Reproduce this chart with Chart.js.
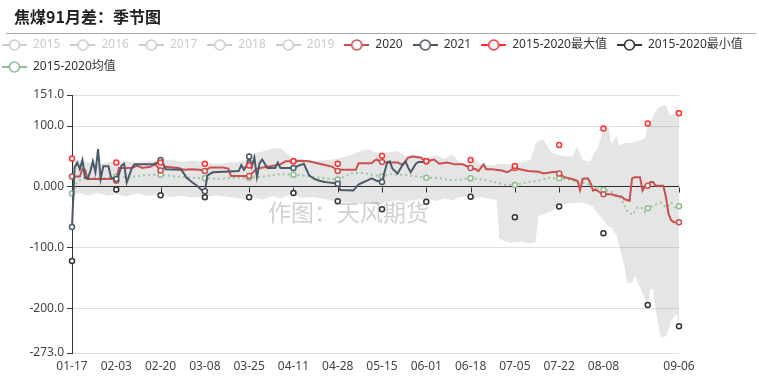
<!DOCTYPE html>
<html>
<head>
<meta charset="utf-8">
<title>焦煤91月差：季节图</title>
<script src="https://cdn.jsdelivr.net/npm/chart.js@4.4.1/dist/chart.umd.min.js"></script>
<style>
  html, body { margin: 0; padding: 0; background: #fff; }
  #wrap { width: 759px; height: 385px; }
</style>
</head>
<body>
<div id="wrap"><canvas id="seasonChart" width="759" height="385"></canvas></div>
<script>
var chartTitle = '焦煤91月差：季节图';
var watermark = '作图：天风期货';

// one category per calendar day, 01-17 .. 09-06 (leap-year calendar, 02-29 included)
var categories = [];
for (var d = new Date(2020, 0, 17); d <= new Date(2020, 8, 6); d.setDate(d.getDate() + 1)) {
  categories.push(String(d.getMonth() + 1).padStart(2, '0') + '-' + String(d.getDate()).padStart(2, '0'));
}

var tickLabels = ['01-17', '02-03', '02-20', '03-08', '03-25', '04-11', '04-28', '05-15',
                  '06-01', '06-18', '07-05', '07-22', '08-08', '09-06'];
var markDays = ['01-17', '02-03', '02-20', '03-08', '03-25', '04-11', '04-28', '05-15',
                '06-01', '06-18', '07-05', '07-22', '08-08', '08-25', '09-06'];
var yTicks = [-273, -200, -100, 0, 100, 151];
var yTickText = ['-273.0', '-200.0', '-100.0', '0.000', '100.0', '151.0'];

var offYears = ['2015', '2016', '2017', '2018', '2019'];

// 2015-2020 max / min, read at the marked days
var maxVals = [46.5, 40, 40, 38, 35, 42, 38, 51, 42, 44, 34.5, 69, 96, 104, 121];
var minVals = [-122, -4.5, -13.7, -17, -17, -10, -23.5, -36.6, -24.6, -16.4, -50, -32.4, -76, -194, -229];

// [day offset from 01-17, value]
var s2020 = [[0,17],[3,17],[4,29],[5,28],[6,13],[16,13],[17,10],[18,31],[23,31],[25,35],[27,31],
  [30,33],[32,37],[34,27],[36,33],[41,31],[43,28],[46,29],[49,28],[51,26],[53,32],[58,32],[60,30],
  [61,18],[67,18],[68,18],[71,30],[75,33],[80,37],[82,42],[85,42],[88,43],[91,42],[95,38],[98,35],
  [100,33],[102,26],[103,28],[109,28],[110,39],[115,39],[116,43],[117,45],[118,42],[119,41],[122,40],
  [125,40],[127,36],[129,48],[131,50],[134,48],[135,44],[136,42],[139,45],[141,38],[144,40],[147,37],
  [150,37],[153,31],[155,29],[156,26],[158,37],[159,29],[161,29],[165,27],[167,24],[170,31],[172,29],
  [175,26],[179,25],[181,22],[184,24],[186,25],[187,22],[189,16],[192,13],[194,10],[195,-5],[196,13],
  [198,14],[199,7],[200,-6],[201,-4],[203,-10],[204,-12],[207,-12],[209,-15],[211,-16],[212,-20],
  [214,-23],[215,14],[216,16],[218,16],[219,-6],[220,2],[221,2],[222,8],[223,8],[224,2],[227,2],
  [228,-17],[229,-45],[230,-55],[231,-58],[233,-58]];

var s2021 = [[0,-66],[1,32],[2,40],[3,29],[4,44],[5,15],[6,13],[7,25],[8,42],[9,24],[10,62],[11,13],
  [12,34],[14,34],[15,15],[17,13],[18,20],[19,35],[20,38],[21,7],[23,31],[24,37],[31,37],[33,40],
  [34,44],[35,38],[36,29],[42,28],[44,15],[46,8],[48,2],[50,-6],[51,-7],[52,19],[54,24],[64,26],
  [65,36],[66,28],[67,35],[68,50],[69,33],[70,48],[71,16],[72,39],[73,45],[75,31],[78,31],[79,40],
  [80,31],[85,31],[87,35],[89,38],[91,19],[93,13],[95,10],[97,8],[99,7],[101,6],[102,5],[103,-5],
  [108,-6],[110,4],[111,6],[113,10],[115,14],[117,10],[119,8],[120,25],[121,40],[122,42],[123,30],
  [125,22],[127,37],[128,42],[129,32],[130,24],[132,38],[133,41],[135,41]];

var avgLine = [[0,-11],[2,8],[4,14],[8,15],[12,14],[17,17],[22,16],[28,19],[34,20],[40,17],[46,15],
  [51,14],[56,13],[62,15],[68,15],[74,17],[80,21],[85,20],[90,18],[95,15],[100,13],[102,12],[105,18],
  [108,23],[112,23],[116,19],[119,17],[122,21],[126,20],[131,18],[136,15],[140,15],[145,11],[149,12],
  [153,14],[158,12],[163,7],[167,3],[170,3],[174,7],[179,10],[183,15],[187,14],[191,12],[194,8],
  [197,6],[200,2],[204,-5],[208,-9],[211,-20],[213,-39],[215,-46],[217,-34],[219,-35],[220,-42],
  [221,-35],[223,-31],[226,-26],[228,-34],[230,-26],[232,-37],[233,-32]];

// grey range band
var bandDays = [0,3,6,10,14,17,21,25,29,34,38,42,46,51,56,61,66,70,73,77,80,84,88,93,97,101,106,111,
  114,117,119,121,125,128,131,136,140,143,146,148,151,154,157,161,163,164,168,172,176,178,179,181,184,
  187,189,192,194,196,199,200,202,204,206,207,209,210,212,213,215,216,218,220,221,222,223,224,225,226,
  228,229,230,231,232,233];
var bandHi = [42,44,40,38,41,40,43,40,42,43,45,41,43,40,38,40,42,55,58,63,64,50,45,42,44,46,51,59,
  62,56,54,57,59,50,54,48,52,46,54,43,37,46,37,35,37,38,37,40,44,72,76,78,56,
  52,50,50,66,44,42,52,66,96,98,70,84,68,72,72,73,74,76,80,103,106,115,124,130,132,
  135,122,116,120,133,125];
var bandLo = [-12,-10,-14,-10,-15,-12,-16,-11,-15,-13,-17,-14,-18,-16,-14,-17,-20,-17,-21,-15,-19,-12,
  -18,-17,-20,-23,-26,-28,-25,-30,-28,-24,-22,-25,-21,-20,-23,-19,-22,-18,-16,-20,-17,-20,-22,-85,-92,
  -90,-93,-90,-48,-45,-40,-31,-28,-27,-26,-26,-30,-33,-45,-55,-66,-66,-80,-95,-130,-158,-158,-145,-165,
  -185,-193,-170,-168,-200,-225,-248,-245,-235,-220,-215,-209,-231];

var FONT = "'Noto Sans', 'Noto Sans CJK SC', sans-serif";
var C2020 = '#c9504f', C2021 = '#4a5a68', CMAX = '#ff3030', CMIN = '#333333', CAVG = '#8fbc8f';

function pts(list) {
  return list.map(function (p) { return { x: categories[p[0]], y: p[1] }; });
}
function markRadius(ctx) {
  return ctx.raw && markDays.indexOf(ctx.raw.x) >= 0 ? 2.5 : 0;
}
function makeIcon(color) {
  var c = document.createElement('canvas');
  c.width = 25; c.height = 14;
  var g = c.getContext('2d');
  g.strokeStyle = color; g.lineWidth = 2;
  g.beginPath(); g.moveTo(0, 7); g.lineTo(25, 7); g.stroke();
  g.beginPath(); g.arc(12.5, 7, 5, 0, Math.PI * 2);
  g.fillStyle = '#fff'; g.fill(); g.lineWidth = 1.6; g.stroke();
  return c;
}

var header = {
  id: 'header',
  beforeDraw: function (chart) {
    var ctx = chart.ctx;
    ctx.save();
    ctx.fillStyle = '#222';
    ctx.font = "bold 16px 'Noto Sans CJK SC', sans-serif";
    ctx.textBaseline = 'middle';
    ctx.fillText(chartTitle, 14, 17);
    ctx.strokeStyle = '#aaa';
    ctx.lineWidth = 1;
    ctx.beginPath(); ctx.moveTo(6, 33.5); ctx.lineTo(756, 33.5); ctx.stroke();
    ctx.restore();
  }
};

var axisMarks = {
  id: 'axisMarks',
  beforeDatasetsDraw: function (chart) {
    var ctx = chart.ctx, xs = chart.scales.x, ys = chart.scales.y;
    var y0 = Math.round(ys.getPixelForValue(0)) + 0.5;
    ctx.save();
    ctx.strokeStyle = '#333';
    ctx.lineWidth = 1;
    ctx.beginPath();
    tickLabels.forEach(function (lab) {
      var px = Math.round(xs.getPixelForValue(categories.indexOf(lab))) + 0.5;
      ctx.moveTo(px, y0); ctx.lineTo(px, y0 + 5);
    });
    ctx.stroke();
    ctx.restore();
  },
  afterDatasetsDraw: function (chart) {
    var ctx = chart.ctx;
    ctx.save();
    ctx.fillStyle = 'rgba(120,120,120,0.35)';
    ctx.font = "23px 'Noto Sans CJK SC', sans-serif";
    ctx.textAlign = 'left';
    ctx.textBaseline = 'middle';
    ctx.fillText(watermark, 268, 212);
    ctx.restore();
  }
};

Chart.defaults.font.family = FONT;
Chart.defaults.font.size = 12;
Chart.defaults.color = '#444';

var chart = new Chart(document.getElementById('seasonChart').getContext('2d'), {
  type: 'line',
  data: {
    labels: categories,
    datasets: [
      { label: '2020', data: pts(s2020), borderColor: C2020, borderWidth: 2, iconColor: C2020,
        pointRadius: markRadius, pointBackgroundColor: '#fff', pointBorderColor: C2020,
        pointBorderWidth: 1.5, order: 4, clip: false },
      { label: '2021', data: pts(s2021), borderColor: C2021, borderWidth: 2, iconColor: C2021,
        pointRadius: markRadius, pointBackgroundColor: '#fff', pointBorderColor: C2021,
        pointBorderWidth: 1.5, order: 3, clip: false },
      { label: '2015-2020最大值', data: markDays.map(function (m, i) { return { x: m, y: maxVals[i] }; }),
        showLine: false, iconColor: CMAX, pointRadius: 2.5, pointBackgroundColor: '#fff',
        pointBorderColor: CMAX, pointBorderWidth: 1.5, order: 2, clip: false },
      { label: '2015-2020最小值', data: markDays.map(function (m, i) { return { x: m, y: minVals[i] }; }),
        showLine: false, iconColor: CMIN, pointRadius: 2.5, pointBackgroundColor: '#fff',
        pointBorderColor: CMIN, pointBorderWidth: 1.5, order: 1, clip: false },
      { label: '2015-2020均值', data: pts(avgLine), borderColor: '#9cc3a2', borderWidth: 2,
        borderDash: [2, 3], iconColor: CAVG, pointRadius: markRadius, pointBackgroundColor: '#fff',
        pointBorderColor: CAVG, pointBorderWidth: 1.5, order: 5, clip: false },
      { label: 'bandLo', data: bandDays.map(function (dd, i) { return { x: categories[dd], y: bandLo[i] }; }),
        borderWidth: 0, pointRadius: 0, fill: false, order: 10 },
      { label: 'bandHi', data: bandDays.map(function (dd, i) { return { x: categories[dd], y: bandHi[i] }; }),
        borderWidth: 0, pointRadius: 0, fill: '-1', backgroundColor: 'rgba(0,0,0,0.1)', order: 9 }
    ]
  },
  options: {
    responsive: false,
    animation: false,
    events: [],
    layout: { padding: { left: -8, top: 29, right: 0, bottom: 6 } },
    elements: { line: { tension: 0 } },
    plugins: {
      tooltip: { enabled: false },
      subtitle: { display: true, text: '', weight: 500, padding: 0, font: { size: 1, lineHeight: '12px' } },
      legend: {
        position: 'top',
        align: 'start',
        onClick: function () {},
        labels: {
          usePointStyle: true,
          pointStyleWidth: 25,
          boxHeight: 12,
          padding: 10,
          color: '#333',
          font: { size: 12, family: FONT },
          generateLabels: function (ch) {
            var items = offYears.map(function (name) {
              return { text: name, fontColor: '#ccc', pointStyle: makeIcon('#ccc'), hidden: false,
                       lineWidth: 0, strokeStyle: '#ccc', fillStyle: '#ccc' };
            });
            ch.data.datasets.forEach(function (ds, i) {
              if (!ds.iconColor) return;
              items.push({ text: ds.label, fontColor: '#333', pointStyle: makeIcon(ds.iconColor),
                           hidden: false, lineWidth: 0, datasetIndex: i,
                           strokeStyle: ds.iconColor, fillStyle: ds.iconColor });
            });
            return items;
          }
        }
      }
    },
    scales: {
      x: {
        type: 'category',
        offset: false,
        grid: { display: false, drawTicks: false },
        border: { display: false },
        ticks: {
          autoSkip: false, maxRotation: 0, padding: 6, color: '#444',
          callback: function (v, i) {
            var lab = categories[i];
            return tickLabels.indexOf(lab) >= 0 ? lab : null;
          }
        },
        afterFit: function (s) { s.height = 26; }
      },
      y: {
        min: -273,
        max: 151,
        afterBuildTicks: function (s) { s.ticks = yTicks.map(function (v) { return { value: v }; }); },
        grid: {
          color: function (c) { return c.tick && c.tick.value === 0 ? '#333' : '#e0e0e0'; },
          tickColor: '#333',
          tickLength: 5
        },
        border: { color: '#333' },
        ticks: {
          autoSkip: false, padding: 3, color: '#444',
          callback: function (v) { return yTickText[yTicks.indexOf(v)]; }
        },
        afterFit: function (s) { s.width = 80; }
      },
      pad: {
        type: 'linear',
        position: 'right',
        grid: { display: false, drawTicks: false },
        border: { display: false },
        ticks: { display: false },
        afterFit: function (s) { s.width = 80; }
      }
    }
  },
  plugins: [header, axisMarks]
});
</script>
</body>
</html>
